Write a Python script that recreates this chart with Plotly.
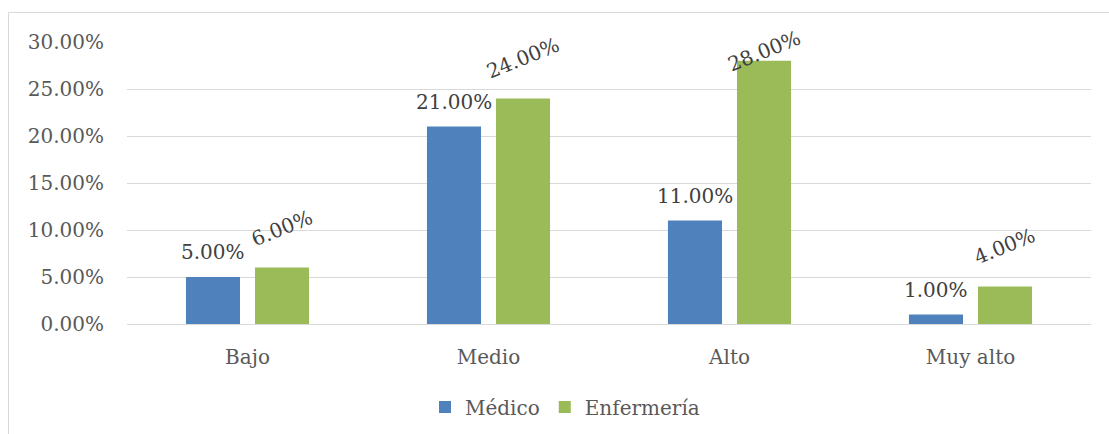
import plotly.graph_objects as go

categories = ["Bajo", "Medio", "Alto", "Muy alto"]
medico = [5.0, 21.0, 11.0, 1.0]
enfermeria = [6.0, 24.0, 28.0, 4.0]
series_names = ["Médico", "Enfermería"]
y_ticks = [0, 5, 10, 15, 20, 25, 30]

BLUE = "#4F81BD"
GREEN = "#9BBB59"
FONT = "DejaVu Serif"
AXIS_TXT = "#595959"
LABEL_TXT = "#404040"

W, H = 1109, 434
L, R, T, B = 127, 18, 42, 110
plot_w = W - L - R
plot_h = H - T - B
ymax = 30
px_per_unit = plot_h / ymax

fig = go.Figure()
fig.add_trace(go.Bar(x=categories, y=medico, name=series_names[0],
                     marker=dict(color=BLUE, line=dict(width=0))))
fig.add_trace(go.Bar(x=categories, y=enfermeria, name=series_names[1],
                     marker=dict(color=GREEN, line=dict(width=0))))

annotations = []
cat_w = plot_w / len(categories)
slot_off = cat_w * (1 - 0.427) / 4
for c, v in zip(categories, medico):
    annotations.append(dict(x=c, y=v, xref="x", yref="y", text=f"{v:.2f}%",
                            showarrow=False, xanchor="center", yanchor="middle",
                            xshift=-slot_off, yshift=25,
                            font=dict(family=FONT, size=20, color=LABEL_TXT)))
for c, v in zip(categories, enfermeria):
    shift = 40
    max_shift = (ymax - v) * px_per_unit - 9
    shift = min(shift, max_shift)
    annotations.append(dict(x=c, y=v, xref="x", yref="y", text=f"{v:.2f}%",
                            showarrow=False, xanchor="center", yanchor="middle",
                            xshift=slot_off, yshift=shift, textangle=-22,
                            font=dict(family=FONT, size=20, color=LABEL_TXT)))

# chart-area border (top and left visible)
bx0 = (8.5 - L) / plot_w
bx1 = (W + 5 - L) / plot_w
by1 = 1 + (T - 12.5) / plot_h
by0 = -(B + 10) / plot_h
shapes = [dict(type="rect", xref="paper", yref="paper", x0=bx0, x1=bx1, y0=by0, y1=by1,
               line=dict(color="#D9D9D9", width=1), fillcolor="rgba(0,0,0,0)", layer="below")]

fig.update_layout(
    width=W, height=H,
    margin=dict(l=L, r=R, t=T, b=B, pad=0, autoexpand=False),
    paper_bgcolor="white", plot_bgcolor="white",
    barmode="group", bargap=0.427, bargroupgap=0.217,
    font=dict(family=FONT, size=20, color=AXIS_TXT),
    showlegend=True,
    legend=dict(orientation="h", x=425 / W, xanchor="left", xref="container",
                y=(H - 407) / H, yanchor="middle", yref="container",
                font=dict(family=FONT, size=20, color=AXIS_TXT),
                bgcolor="rgba(0,0,0,0)", itemclick=False),
    annotations=annotations,
    shapes=shapes,
)
fig.update_yaxes(range=[0, ymax], tickvals=y_ticks,
                 ticktext=[f"{t:.2f}%" for t in y_ticks],
                 showgrid=True, gridcolor="#D9D9D9", gridwidth=1,
                 zeroline=True, zerolinecolor="#D9D9D9", zerolinewidth=1,
                 showline=False, ticks="", ticklabelstandoff=22,
                 tickfont=dict(family=FONT, size=20, color=AXIS_TXT))
fig.update_xaxes(showgrid=False, showline=False, ticks="",
                 ticklabelstandoff=19,
                 tickfont=dict(family=FONT, size=20, color=AXIS_TXT))

fig.write_html("out.html")
